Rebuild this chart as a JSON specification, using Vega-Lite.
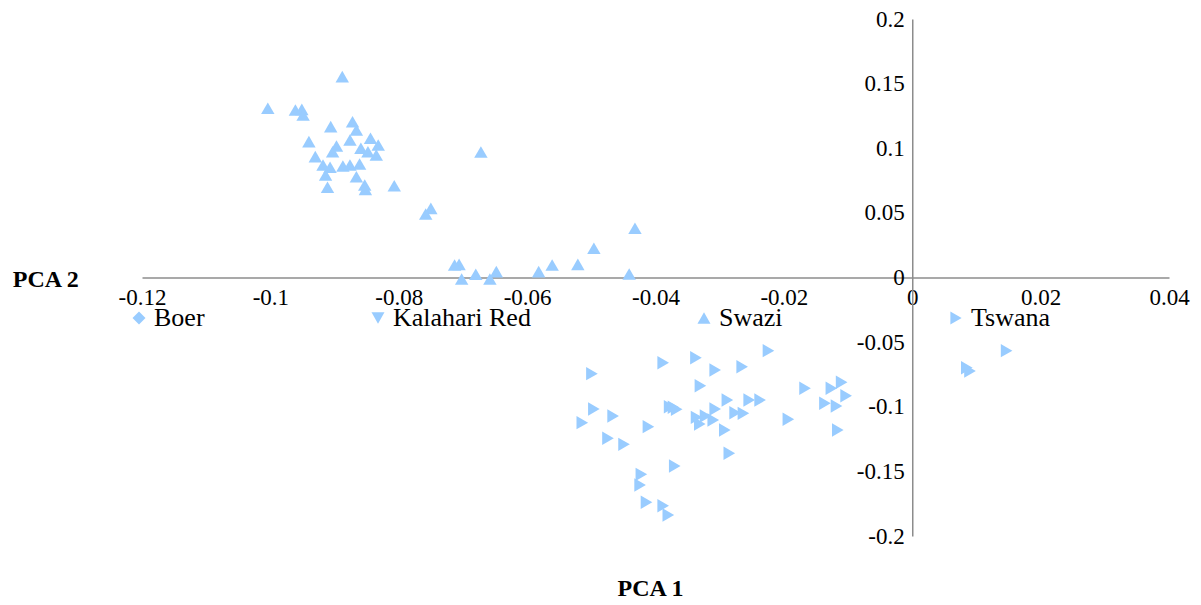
{
  "$schema": "https://vega.github.io/schema/vega-lite/v6.json",
  "width": 1027,
  "height": 517,
  "autosize": {"type": "none"},
  "padding": {"left": 142, "top": 19, "right": 32, "bottom": 69},
  "background": "white",
  "config": {
    "view": {"stroke": null},
    "font": "Liberation Serif, Times New Roman, DejaVu Serif, serif"
  },
  "data": {
    "values": [
      {"breed": "Swazi", "pc1": -0.0888, "pc2": 0.1554},
      {"breed": "Swazi", "pc1": -0.1004, "pc2": 0.1309},
      {"breed": "Swazi", "pc1": -0.0961, "pc2": 0.1296},
      {"breed": "Swazi", "pc1": -0.0951, "pc2": 0.1301},
      {"breed": "Swazi", "pc1": -0.0949, "pc2": 0.1257},
      {"breed": "Swazi", "pc1": -0.0906, "pc2": 0.1167},
      {"breed": "Swazi", "pc1": -0.0872, "pc2": 0.1205},
      {"breed": "Swazi", "pc1": -0.0866, "pc2": 0.1141},
      {"breed": "Swazi", "pc1": -0.0940, "pc2": 0.1051},
      {"breed": "Swazi", "pc1": -0.0876, "pc2": 0.1064},
      {"breed": "Swazi", "pc1": -0.0897, "pc2": 0.1017},
      {"breed": "Swazi", "pc1": -0.0844, "pc2": 0.1077},
      {"breed": "Swazi", "pc1": -0.0832, "pc2": 0.1025},
      {"breed": "Swazi", "pc1": -0.0859, "pc2": 0.1000},
      {"breed": "Swazi", "pc1": -0.0848, "pc2": 0.0973},
      {"breed": "Swazi", "pc1": -0.0835, "pc2": 0.0948},
      {"breed": "Swazi", "pc1": -0.0903, "pc2": 0.0973},
      {"breed": "Swazi", "pc1": -0.0930, "pc2": 0.0935},
      {"breed": "Swazi", "pc1": -0.0918, "pc2": 0.0870},
      {"breed": "Swazi", "pc1": -0.0907, "pc2": 0.0853},
      {"breed": "Swazi", "pc1": -0.0887, "pc2": 0.0863},
      {"breed": "Swazi", "pc1": -0.0876, "pc2": 0.0870},
      {"breed": "Swazi", "pc1": -0.0861, "pc2": 0.0878},
      {"breed": "Swazi", "pc1": -0.0914, "pc2": 0.0793},
      {"breed": "Swazi", "pc1": -0.0866, "pc2": 0.0780},
      {"breed": "Swazi", "pc1": -0.0911, "pc2": 0.0698},
      {"breed": "Swazi", "pc1": -0.0853, "pc2": 0.0716},
      {"breed": "Swazi", "pc1": -0.0852, "pc2": 0.0682},
      {"breed": "Swazi", "pc1": -0.0807, "pc2": 0.0710},
      {"breed": "Swazi", "pc1": -0.0750, "pc2": 0.0535},
      {"breed": "Swazi", "pc1": -0.0758, "pc2": 0.0491},
      {"breed": "Swazi", "pc1": -0.0706, "pc2": 0.0102},
      {"breed": "Swazi", "pc1": -0.0713, "pc2": 0.0097},
      {"breed": "Swazi", "pc1": -0.0702, "pc2": -0.0012},
      {"breed": "Swazi", "pc1": -0.0680, "pc2": 0.0025},
      {"breed": "Swazi", "pc1": -0.0658, "pc2": -0.0012},
      {"breed": "Swazi", "pc1": -0.0648, "pc2": 0.0045},
      {"breed": "Swazi", "pc1": -0.0582, "pc2": 0.0045},
      {"breed": "Swazi", "pc1": -0.0561, "pc2": 0.0097},
      {"breed": "Swazi", "pc1": -0.0521, "pc2": 0.0102},
      {"breed": "Swazi", "pc1": -0.0496, "pc2": 0.0226},
      {"breed": "Swazi", "pc1": -0.0432, "pc2": 0.0381},
      {"breed": "Swazi", "pc1": -0.0441, "pc2": 0.0027},
      {"breed": "Swazi", "pc1": -0.0672, "pc2": 0.0971},
      {"breed": "Tswana", "pc1": -0.0499, "pc2": -0.0744},
      {"breed": "Tswana", "pc1": -0.0388, "pc2": -0.0659},
      {"breed": "Tswana", "pc1": -0.0337, "pc2": -0.0621},
      {"breed": "Tswana", "pc1": -0.0307, "pc2": -0.0716},
      {"breed": "Tswana", "pc1": -0.0265, "pc2": -0.0690},
      {"breed": "Tswana", "pc1": -0.0330, "pc2": -0.0837},
      {"breed": "Tswana", "pc1": -0.0496, "pc2": -0.1017},
      {"breed": "Tswana", "pc1": -0.0466, "pc2": -0.1072},
      {"breed": "Tswana", "pc1": -0.0514, "pc2": -0.1123},
      {"breed": "Tswana", "pc1": -0.0411, "pc2": -0.1154},
      {"breed": "Tswana", "pc1": -0.0378, "pc2": -0.1000},
      {"breed": "Tswana", "pc1": -0.0372, "pc2": -0.1004},
      {"breed": "Tswana", "pc1": -0.0367, "pc2": -0.1020},
      {"breed": "Tswana", "pc1": -0.0288, "pc2": -0.0948},
      {"breed": "Tswana", "pc1": -0.0254, "pc2": -0.0948},
      {"breed": "Tswana", "pc1": -0.0237, "pc2": -0.0948},
      {"breed": "Tswana", "pc1": -0.0307, "pc2": -0.1017},
      {"breed": "Tswana", "pc1": -0.0336, "pc2": -0.1082},
      {"breed": "Tswana", "pc1": -0.0322, "pc2": -0.1072},
      {"breed": "Tswana", "pc1": -0.0310, "pc2": -0.1103},
      {"breed": "Tswana", "pc1": -0.0331, "pc2": -0.1133},
      {"breed": "Tswana", "pc1": -0.0276, "pc2": -0.1046},
      {"breed": "Tswana", "pc1": -0.0263, "pc2": -0.1051},
      {"breed": "Tswana", "pc1": -0.0292, "pc2": -0.1180},
      {"breed": "Tswana", "pc1": -0.0474, "pc2": -0.1244},
      {"breed": "Tswana", "pc1": -0.0449, "pc2": -0.1291},
      {"breed": "Tswana", "pc1": -0.0285, "pc2": -0.1360},
      {"breed": "Tswana", "pc1": -0.0370, "pc2": -0.1458},
      {"breed": "Tswana", "pc1": -0.0422, "pc2": -0.1523},
      {"breed": "Tswana", "pc1": -0.0424, "pc2": -0.1605},
      {"breed": "Tswana", "pc1": -0.0414, "pc2": -0.1739},
      {"breed": "Tswana", "pc1": -0.0388, "pc2": -0.1766},
      {"breed": "Tswana", "pc1": -0.0380, "pc2": -0.1838},
      {"breed": "Tswana", "pc1": -0.0224, "pc2": -0.0566},
      {"breed": "Tswana", "pc1": -0.0167, "pc2": -0.0857},
      {"breed": "Tswana", "pc1": -0.0126, "pc2": -0.0857},
      {"breed": "Tswana", "pc1": -0.0110, "pc2": -0.0811},
      {"breed": "Tswana", "pc1": -0.0103, "pc2": -0.0915},
      {"breed": "Tswana", "pc1": -0.0136, "pc2": -0.0973},
      {"breed": "Tswana", "pc1": -0.0118, "pc2": -0.0994},
      {"breed": "Tswana", "pc1": -0.0193, "pc2": -0.1097},
      {"breed": "Tswana", "pc1": -0.0116, "pc2": -0.1180},
      {"breed": "Tswana", "pc1": 0.0147, "pc2": -0.0566},
      {"breed": "Tswana", "pc1": 0.0085, "pc2": -0.0698},
      {"breed": "Tswana", "pc1": 0.0090, "pc2": -0.0723}
    ]
  },
  "mark": {"type": "point", "filled": true, "color": "#99CCFF", "opacity": 1, "size": 180},
  "encoding": {
    "x": {
      "field": "pc1",
      "type": "quantitative",
      "scale": {"domain": [-0.12, 0.04], "nice": false, "zero": false},
      "axis": {
        "orient": "bottom",
        "offset": -258.5,
        "values": [-0.12, -0.1, -0.08, -0.06, -0.04, -0.02, 0, 0.02, 0.04],
        "labelExpr": "'' + datum.value",
        "grid": false,
        "ticks": false,
        "tickSize": 0,
        "domainColor": "#8c8c8c",
        "domainWidth": 1.5,
        "labelFont": "Liberation Serif, Times New Roman, DejaVu Serif, serif",
        "labelFontSize": 23,
        "labelColor": "#000000",
        "labelPadding": 9,
        "labelFlush": false,
        "labelOverlap": false,
        "title": "PCA 1",
        "titleFont": "Liberation Serif, Times New Roman, DejaVu Serif, serif",
        "titleFontSize": 24,
        "titleFontWeight": "bold",
        "titleColor": "#000000",
        "titleAngle": 0,
        "titleAlign": "center",
        "titleBaseline": "middle",
        "titleX": 508,
        "titleY": 311
      }
    },
    "y": {
      "field": "pc2",
      "type": "quantitative",
      "scale": {"domain": [-0.2, 0.2], "nice": false, "zero": false},
      "axis": {
        "orient": "left",
        "offset": -770.25,
        "values": [-0.2, -0.15, -0.1, -0.05, 0, 0.05, 0.1, 0.15, 0.2],
        "labelExpr": "'' + datum.value",
        "grid": false,
        "ticks": false,
        "tickSize": 0,
        "domainColor": "#8c8c8c",
        "domainWidth": 1.5,
        "labelFont": "Liberation Serif, Times New Roman, DejaVu Serif, serif",
        "labelFontSize": 23,
        "labelColor": "#000000",
        "labelPadding": 8,
        "labelFlush": false,
        "labelOverlap": false,
        "title": "PCA 2",
        "titleFont": "Liberation Serif, Times New Roman, DejaVu Serif, serif",
        "titleFontSize": 24,
        "titleFontWeight": "bold",
        "titleColor": "#000000",
        "titleAngle": 0,
        "titleAlign": "center",
        "titleBaseline": "middle",
        "titleX": -867,
        "titleY": 260
      }
    },
    "shape": {
      "field": "breed",
      "type": "nominal",
      "scale": {
        "domain": ["Boer", "Kalahari Red", "Swazi", "Tswana"],
        "range": ["diamond", "triangle-down", "triangle-up", "triangle-right"]
      },
      "legend": {
        "title": null,
        "orient": "none",
        "direction": "horizontal",
        "legendX": -16,
        "legendY": 286,
        "padding": 0,
        "columnPadding": 160,
        "labelFont": "Liberation Serif, Times New Roman, DejaVu Serif, serif",
        "labelFontSize": 26,
        "labelColor": "#000000",
        "labelOffset": 2,
        "symbolSize": 170,
        "symbolFillColor": "#99CCFF",
        "symbolStrokeWidth": 0
      }
    }
  }
}
